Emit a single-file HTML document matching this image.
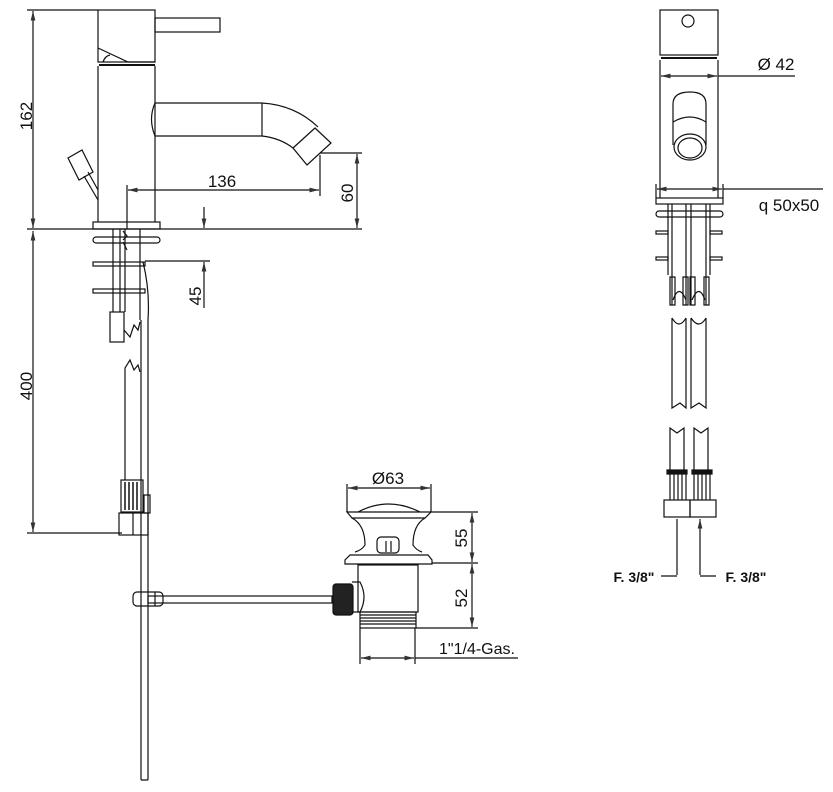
<!DOCTYPE html>
<html><head><style>html,body{margin:0;padding:0;background:#fff}svg{display:block}text{font-family:"Liberation Sans",sans-serif;fill:#111}</style></head>
<body>
<svg width="833" height="792" viewBox="0 0 833 792" xmlns="http://www.w3.org/2000/svg" fill="none" stroke="#111" stroke-width="1.2">
<defs><marker id="a" markerWidth="8" markerHeight="6" refX="8" refY="3" orient="auto-start-reverse"><path d="M0,1 L8,3 L0,5" fill="#333" stroke="none"/></marker></defs>
<!-- LEFT VIEW -->
<rect x="98" y="10" width="57" height="52"/>
<rect x="155" y="18" width="65" height="14"/>
<path d="M98,48 L128,62 L155,62"/>
<path d="M103,62 Q105,56 110,55"/>
<line x1="99" y1="65" x2="155" y2="65" stroke-width="2"/>
<line x1="98" y1="66" x2="98" y2="222"/><line x1="155" y1="66" x2="155" y2="222"/>
<path d="M155,103 L262,103 Q295,105 318,127 M155,136 L262,136 Q280,138 293,148 M262,103 L262,136"/>
<path d="M155,103 Q148,119 155,136"/>
<path d="M293,148 L315,128 L331,143 L307,165 Z"/>
<path d="M68,158 L82,150 L93,172 L79,180 Z M84,176 L98,200 M88,172 L98,190"/>
<rect x="93" y="222" width="67" height="7"/>
<line x1="27" y1="229" x2="362" y2="229"/>
<!-- dims left -->
<line x1="33" y1="11" x2="33" y2="228" marker-start="url(#a)" marker-end="url(#a)"/>
<line x1="27" y1="10" x2="98" y2="10"/>
<text transform="translate(32,116) rotate(-90)" font-size="17" text-anchor="middle" stroke="none">162</text>
<line x1="33" y1="231" x2="33" y2="532" marker-start="url(#a)" marker-end="url(#a)"/>
<line x1="27" y1="533" x2="122" y2="533"/>
<text transform="translate(32,386) rotate(-90)" font-size="17" text-anchor="middle" stroke="none">400</text>
<line x1="128" y1="190" x2="319" y2="190" marker-start="url(#a)" marker-end="url(#a)"/>
<line x1="127" y1="185" x2="127" y2="229"/><line x1="320" y1="155" x2="320" y2="196"/>
<text x="222" y="187" font-size="17" text-anchor="middle" stroke="none">136</text>
<line x1="357" y1="154" x2="357" y2="228" marker-start="url(#a)" marker-end="url(#a)"/>
<line x1="320" y1="153" x2="362" y2="153"/>
<text transform="translate(353,193) rotate(-90)" font-size="17" text-anchor="middle" stroke="none">60</text>
<line x1="204" y1="207" x2="204" y2="228" marker-end="url(#a)"/>
<line x1="204" y1="308" x2="204" y2="262" marker-end="url(#a)"/>
<line x1="145" y1="261" x2="210" y2="261"/>
<text transform="translate(201,296) rotate(-90)" font-size="17" text-anchor="middle" stroke="none">45</text>
<!-- under base left -->
<rect x="93" y="237" width="67" height="6" rx="3"/>
<rect x="93" y="262" width="52" height="4"/><rect x="93" y="289" width="52" height="4"/>
<path d="M113,229 V312 M120,229 V312 M125,229 V312 M140,229 V320 M143,262 Q150,290 148,320"/>
<path d="M123,231 L127,236 L123,240 M123,242 L127,250"/>
<rect x="110" y="312" width="14" height="30"/>
<path d="M124,330 L130,337 L134,325 L138,330 L140,322"/>
<path d="M141,320 V780 M148,320 V780 M141,780 H148"/>
<path d="M125,480 V368 L130,360 L134,370 L138,365 L140,372"/>
<rect x="121" y="480" width="22" height="32"/>
<path d="M125,482 V510 M129,482 V510 M133,482 V510 M137,482 V510" stroke-width="1.5"/>
<rect x="119" y="513" width="29" height="22"/><line x1="133" y1="513" x2="133" y2="535"/>
<rect x="144" y="495" width="6" height="18"/>
<!-- pull rod -->
<rect x="148" y="596" width="184" height="7"/>
<rect x="133" y="592" width="30" height="14" rx="4"/>
<line x1="155" y1="592" x2="155" y2="606"/>
<rect x="333" y="584" width="20" height="31" rx="3" fill="#222"/>
<!-- WASTE -->
<line x1="347" y1="484" x2="347" y2="512"/><line x1="431" y1="484" x2="431" y2="512"/>
<line x1="348" y1="488" x2="430" y2="488" marker-start="url(#a)" marker-end="url(#a)"/>
<text x="388" y="484" font-size="17" text-anchor="middle" stroke="none">Ø63</text>
<path d="M358,512 Q388,496 420,512"/>
<path d="M347,512 H431 L425,518 H352 Z"/>
<path d="M352,518 Q365,525 365,545 Q362,550 355,552 M425,518 Q413,525 413,545 Q416,550 422,552"/>
<rect x="377" y="537" width="22" height="16" rx="4"/>
<path d="M386,541 V552 M391,541 V552"/>
<path d="M350,555 H428 L432,560 V564 H345 V560 Z"/>
<rect x="358" y="565" width="60" height="47"/>
<path d="M352,582 H360 Q368,597 360,612 H352"/>
<rect x="360" y="612" width="56" height="16"/>
<path d="M360,615 H416 M360,618 H416 M360,621 H416 M360,624 H416"/>
<line x1="431" y1="512" x2="478" y2="512"/><line x1="432" y1="563" x2="478" y2="563"/><line x1="416" y1="628" x2="478" y2="628"/>
<line x1="472" y1="513" x2="472" y2="562" marker-start="url(#a)" marker-end="url(#a)"/>
<line x1="472" y1="564" x2="472" y2="627" marker-start="url(#a)" marker-end="url(#a)"/>
<text transform="translate(467,538) rotate(-90)" font-size="17" text-anchor="middle" stroke="none">55</text>
<text transform="translate(467,598) rotate(-90)" font-size="17" text-anchor="middle" stroke="none">52</text>
<line x1="360" y1="628" x2="360" y2="664"/><line x1="415" y1="628" x2="415" y2="664"/>
<line x1="361" y1="658" x2="414" y2="658" marker-start="url(#a)" marker-end="url(#a)"/>
<line x1="415" y1="658" x2="518" y2="658"/>
<text x="477" y="654" font-size="16" text-anchor="middle" stroke="none">1"1/4-Gas.</text>
<!-- RIGHT VIEW -->
<rect x="660" y="10" width="58" height="45"/>
<circle cx="688" cy="21" r="6"/>
<line x1="661" y1="58" x2="717" y2="58" stroke-width="2"/>
<line x1="660" y1="60" x2="660" y2="198"/><line x1="718" y1="60" x2="718" y2="198"/>
<line x1="661" y1="76" x2="717" y2="76" marker-start="url(#a)" marker-end="url(#a)"/>
<line x1="718" y1="76" x2="795" y2="76"/>
<text x="776" y="70" font-size="17" text-anchor="middle" stroke="none">Ø 42</text>
<path d="M673,145 V104 Q673,92 690,92 Q706,92 706,104 V145"/>
<path d="M673,122 Q690,112 706,122"/>
<ellipse cx="690" cy="147" rx="16" ry="13"/><ellipse cx="690" cy="148" rx="12" ry="10"/>
<line x1="656" y1="184" x2="656" y2="198"/><line x1="723" y1="184" x2="723" y2="198"/>
<line x1="657" y1="189" x2="722" y2="189" marker-start="url(#a)" marker-end="url(#a)"/>
<line x1="723" y1="189" x2="823" y2="189"/>
<text x="789" y="211" font-size="17" text-anchor="middle" stroke="none">q 50x50</text>
<rect x="656" y="198" width="67" height="6"/>
<rect x="656" y="211" width="67" height="6" rx="3"/>
<path d="M672,204 V305 M686,204 V305 M691,204 V305 M706,204 V305 M668,204 V275 M710,204 V275"/>
<rect x="656" y="231" width="12" height="3"/><rect x="710" y="231" width="12" height="3"/>
<rect x="656" y="257" width="12" height="3"/><rect x="710" y="257" width="12" height="3"/>
<path d="M670,277 H675 V305 H670 Z M683,277 H688 V305 H683 Z M690,277 H695 V305 H690 Z M704,277 H709 V305 H704 Z"/>
<path d="M673,300 Q679,283 686,300 M692,300 Q699,283 705,300"/>
<path d="M672,318 V408 L680,403 L686,408 V318 M691,318 V408 L699,403 L706,408 V318 M672,318 Q679,330 686,318 M691,318 Q699,330 706,318"/>
<path d="M670,470 V428 L677,433 L684,428 V470 M694,470 V428 L701,433 L708,428 V470"/>
<rect x="667" y="470" width="20" height="4" fill="#111"/><rect x="692" y="470" width="20" height="4" fill="#111"/>
<path d="M670,474 V500 M674,474 V500 M678,474 V500 M682,474 V500 M686,474 V500 M694,474 V500 M698,474 V500 M702,474 V500 M706,474 V500 M710,474 V500"/>
<rect x="664" y="500" width="26" height="17"/><rect x="690" y="500" width="26" height="17"/>
<path d="M677,575 V519 M700,575 V519" marker-end="url(#a)"/>
<path d="M661,576 H677 M700,576 H716"/>
<text x="634" y="582" font-size="14" font-weight="bold" text-anchor="middle" stroke="none">F. 3/8"</text>
<text x="746" y="582" font-size="14" font-weight="bold" text-anchor="middle" stroke="none">F. 3/8"</text>
</svg>
</body></html>
